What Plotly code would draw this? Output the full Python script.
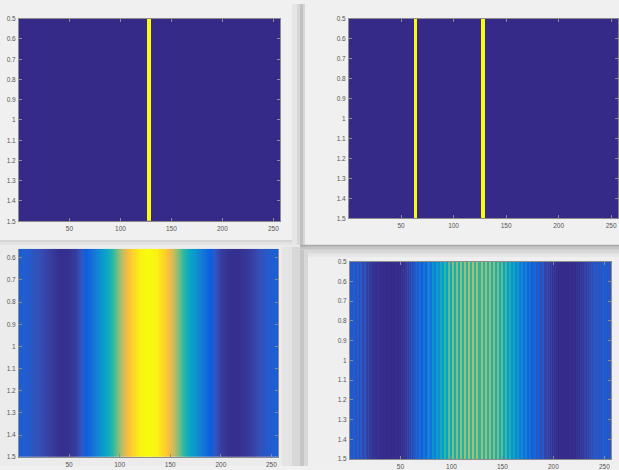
import plotly.graph_objects as go

# ---------------- data ----------------
columns = list(range(1, 257))                      # image columns 1..256
row_centers = [0.75, 1.25]                         # two rows spanning 0.5..1.5

# top-left: single bright vertical line (columns that are at max)
tl_line_cols = [127, 128, 129]
# top-right: two bright vertical lines
tr_line_cols = [63, 64, 65, 127, 128, 129]

# bottom-left: smooth intensity profile read every 8 columns
bl_cols = [1, 8, 16, 24, 32, 40, 48, 56, 64, 72, 80, 88, 96, 104, 112, 120, 128,
           136, 144, 152, 160, 168, 176, 184, 192, 200, 208, 216, 224, 232, 240, 248, 256]
bl_vals = [0.10, 0.09, 0.07, 0.05, 0.03, 0.01, 0.01, 0.03, 0.09, 0.17, 0.27, 0.40, 0.56,
           0.76, 0.90, 0.98, 1.00, 0.98, 0.90, 0.76, 0.56, 0.40, 0.27, 0.17, 0.09, 0.03,
           0.01, 0.01, 0.02, 0.04, 0.07, 0.09, 0.10]

# bottom-right: striped intensity, one value per column
br_vals = [
    0.08, 0.11, 0.07, 0.09, 0.12, 0.08, 0.06, 0.10, 0.09, 0.05, 0.08, 0.09, 0.06, 0.04, 0.07, 0.08,
    0.04, 0.03, 0.05, 0.03, 0.02, 0.03, 0.02, 0.01, 0.02, 0.01, 0.01, 0.02, 0.01, 0.00, 0.01, 0.01,
    0.00, 0.01, 0.00, 0.01, 0.00, 0.00, 0.01, 0.00, 0.00, 0.01, 0.00, 0.00, 0.01, 0.01, 0.00, 0.01,
    0.01, 0.00, 0.02, 0.01, 0.02, 0.01, 0.03, 0.02, 0.05, 0.02, 0.07, 0.03, 0.09, 0.04, 0.11, 0.06,
    0.13, 0.15, 0.08, 0.09, 0.17, 0.18, 0.11, 0.12, 0.20, 0.21, 0.14, 0.15, 0.24, 0.26, 0.17, 0.18,
    0.29, 0.31, 0.22, 0.23, 0.35, 0.36, 0.27, 0.28, 0.41, 0.42, 0.32, 0.33, 0.48, 0.50, 0.36, 0.37,
    0.55, 0.57, 0.40, 0.41, 0.60, 0.61, 0.42, 0.43, 0.62, 0.63, 0.43, 0.44, 0.64, 0.64, 0.45, 0.46,
    0.65, 0.66, 0.46, 0.47, 0.67, 0.68, 0.47, 0.48, 0.68, 0.69, 0.48, 0.48, 0.68, 0.68, 0.48, 0.47,
    0.68, 0.67, 0.47, 0.46, 0.67, 0.66, 0.46, 0.45, 0.65, 0.64, 0.45, 0.44, 0.64, 0.63, 0.43, 0.42,
    0.61, 0.60, 0.42, 0.41, 0.58, 0.56, 0.38, 0.37, 0.53, 0.50, 0.34, 0.33, 0.46, 0.43, 0.30, 0.29,
    0.40, 0.37, 0.26, 0.25, 0.34, 0.31, 0.22, 0.21, 0.28, 0.26, 0.18, 0.17, 0.24, 0.22, 0.15, 0.14,
    0.20, 0.18, 0.11, 0.10, 0.16, 0.15, 0.08, 0.07, 0.13, 0.11, 0.06, 0.05, 0.10, 0.08, 0.04, 0.04,
    0.04, 0.06, 0.03, 0.05, 0.02, 0.04, 0.01, 0.03, 0.01, 0.02, 0.01, 0.01, 0.00, 0.01, 0.00, 0.01,
    0.00, 0.01, 0.00, 0.00, 0.01, 0.00, 0.00, 0.01, 0.00, 0.01, 0.00, 0.01, 0.01, 0.00, 0.02, 0.01,
    0.02, 0.01, 0.03, 0.02, 0.03, 0.02, 0.04, 0.03, 0.06, 0.03, 0.07, 0.04, 0.08, 0.05, 0.09, 0.06,
    0.10, 0.07, 0.08, 0.11, 0.07, 0.09, 0.06, 0.09, 0.10, 0.07, 0.09, 0.08, 0.11, 0.08, 0.07, 0.09,
]

x_tick_vals = [50, 100, 150, 200, 250]
x_tick_text = ["50", "100", "150", "200", "250"]
y_tick_vals = [0.5, 0.6, 0.7, 0.8, 0.9, 1.0, 1.1, 1.2, 1.3, 1.4, 1.5]
y_tick_text = ["0.5", "0.6", "0.7", "0.8", "0.9", "1", "1.1", "1.2", "1.3", "1.4", "1.5"]

# ---------------- style ----------------
W, H = 619, 470
parula = [
    [0.000, "#352a87"], [0.032, "#363da0"], [0.063, "#3450b8"], [0.095, "#1f5ed2"],
    [0.111, "#0f5cdd"], [0.175, "#1270da"], [0.238, "#1481d6"], [0.300, "#0c95cf"],
    [0.365, "#06a4c6"], [0.430, "#19aeb6"], [0.492, "#2eb7a4"], [0.555, "#5bbd8c"],
    [0.619, "#87bf77"], [0.683, "#acbe67"], [0.746, "#d1bb59"], [0.810, "#f2bc45"],
    [0.873, "#fec832"], [0.937, "#fbe11f"], [1.000, "#f9fb0e"],
]


def line_profile(cols):
    return [1.0 if c in cols else 0.0 for c in columns]


panels = [
    # name, px box (x0, x1, y0, y1), x values, profile, y range, smoothing
    ("1", (19, 280, 15, 221), columns, line_profile(tl_line_cols), [1.5, 0.5], False),
    ("2", (349, 618, 15, 218), columns, line_profile(tr_line_cols), [1.5, 0.5], False),
    ("3", (19, 278, 249, 461), bl_cols, bl_vals, [1.5, 0.559], "best"),
    ("4", (350, 611, 262, 463), columns, br_vals, [1.5, 0.5], False),
]

fig = go.Figure()
tick_font = dict(family="Liberation Sans, Arial, sans-serif", size=6.5, color="#555555")
axis_col = "#8c8c8c"

for name, (x0, x1, y0, y1), xs, prof, yr, sm in panels:
    xa = "x" if name == "1" else "x" + name
    ya = "y" if name == "1" else "y" + name
    fig.add_trace(go.Heatmap(
        x=xs, y=row_centers, z=[prof, prof],
        colorscale=parula, zmin=0, zmax=1, showscale=False,
        zsmooth=sm, xaxis=xa, yaxis=ya, hoverinfo="skip",
    ))
    xkey = "xaxis" if name == "1" else "xaxis" + name
    ykey = "yaxis" if name == "1" else "yaxis" + name
    top_line = name != "3"
    fig.update_layout({
        xkey: dict(domain=[x0 / W, x1 / W], anchor=ya, range=[0.5, 256.5],
                   tickvals=x_tick_vals, ticktext=x_tick_text, ticks="inside",
                   ticklen=3, tickcolor=axis_col, showline=True, linecolor=axis_col,
                   linewidth=1, mirror="ticks" if top_line else False,
                   showgrid=False, zeroline=False, tickfont=tick_font,
                   ticklabelstandoff=1),
        ykey: dict(domain=[1 - y1 / H, 1 - y0 / H], anchor=xa, range=yr,
                   tickvals=y_tick_vals, ticktext=y_tick_text, ticks="inside",
                   ticklen=3, tickcolor=axis_col, showline=True, linecolor=axis_col,
                   linewidth=1, mirror="ticks", showgrid=False, zeroline=False,
                   tickfont=tick_font, ticklabelstandoff=1),
    })

# window frames / shadows of the screenshot collage
shapes = []


def rect(x0, y0, x1, y1, color):
    shapes.append(dict(type="rect", xref="paper", yref="paper", layer="below",
                       x0=x0 / W, x1=x1 / W, y0=1 - y1 / H, y1=1 - y0 / H,
                       line=dict(width=0), fillcolor=color))


rect(0, 240, 300, 470, "#ececec")
rect(300, 247, 619, 470, "#efefef")
rect(0, 240, 300, 242, "#d6d6d6")
rect(0, 242, 300, 245, "#e2e2e2")
rect(292, 0, 297, 245, "#e6e6e6")
rect(297, 0, 300, 245, "#d8d8d8")
rect(300, 0, 303, 247, "#c2c2c2")
rect(303, 0, 305, 247, "#d6d6d6")
rect(300, 245, 619, 247, "#a9a9a9")
rect(300, 247, 619, 250, "#c4c4c4")
rect(300, 250, 619, 254, "#d8d8d8")
rect(300, 254, 619, 257, "#e6e6e6")
rect(282, 247, 292, 470, "#e4e4e4")
rect(292, 247, 300, 470, "#d8d8d8")
rect(300, 250, 304, 470, "#c6c6c6")
rect(304, 250, 308, 470, "#d8d8d8")

fig.update_layout(
    width=W, height=H, margin=dict(l=0, r=0, t=0, b=0),
    paper_bgcolor="#f0f0f0", plot_bgcolor="#352a87",
    showlegend=False, shapes=shapes,
)

fig.write_html("out.html")
